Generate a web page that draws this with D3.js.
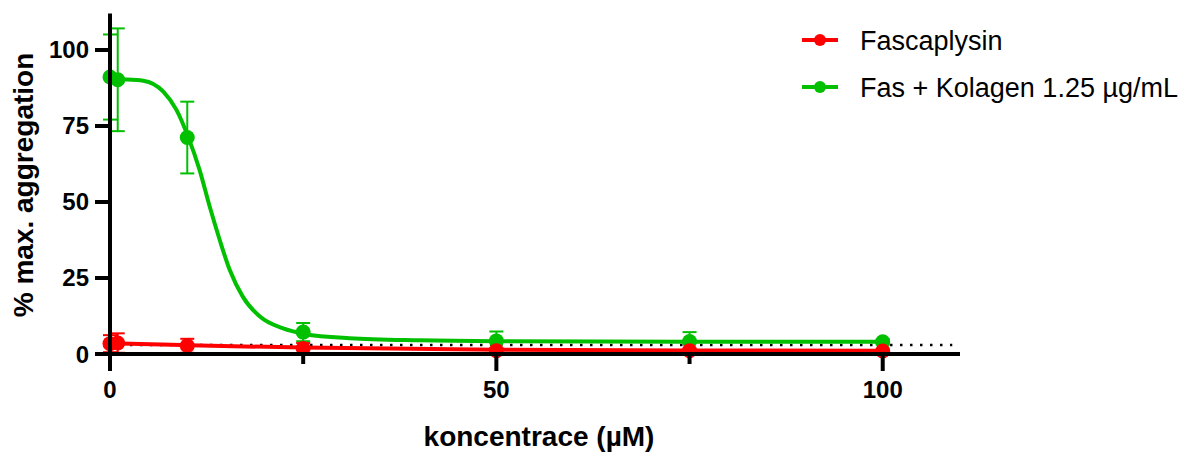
<!DOCTYPE html>
<html>
<head>
<meta charset="utf-8">
<script src="https://cdn.jsdelivr.net/npm/d3@7"></script>
<style>
  body { margin: 0; background: #fff; }
  svg { display: block; font-family: Arial, "Liberation Sans", sans-serif; }
</style>
</head>
<body>
<div id="chart"></div>
<script>
// koncentrace (uM)
const concentrations = [0, 1, 10, 25, 50, 75, 100];

// Fascaplysin
const fasMean = [3.4, 3.6, 2.7, 1.8, 1.1, 1.1, 1.0];
const fasSd = [2.8, 3.2, 2.3, 1.8, 0.8, 0.6, 0.5];

// Fas + Kolagen 1.25 ug/mL
const kolMean = [91.1, 90.2, 71.2, 7.2, 4.3, 4.1, 4.0];
const kolSd = [14.0, 16.9, 11.8, 3.0, 3.1, 3.1, 0.8];

// fitted curves
const kolFitX = [0, 2, 4.3, 6.9, 8.6, 10.1, 11.6, 12.9, 14.2, 15.5, 17.2, 19.4, 22.4, 25.2, 31, 40, 50, 75, 100];
const kolFitY = [90.4, 90.3, 89.9, 86.3, 80.3, 71.5, 60.5, 48.5, 37.5, 27.6, 18.8, 12.3, 8.4, 6.6, 5.2, 4.5, 4.2, 4.05, 4.0];
const fasFitX = [0, 10, 25, 50, 75, 100];
const fasFitY = [3.5, 2.9, 2.1, 1.4, 1.15, 1.05];

// dotted reference line
const baseline = 3.0;

const xTicksMajor = [0, 50, 100];
const xTicksMinor = [25, 75];
const yTicks = [0, 25, 50, 75, 100];

const seriesNames = ["Fascaplysin", "Fas + Kolagen 1.25 \u00b5g/mL"];
const colors = ["#ff0000", "#00c000"];

const width = 1191, height = 455;

const svg = d3.select("#chart").append("svg")
  .attr("width", width)
  .attr("height", height);

const x = d3.scaleLinear().domain([0, 110]).range([110, 960]);
const y = d3.scaleLinear().domain([0, 112]).range([354, 13.5]);

// dotted line
svg.append("line")
  .attr("x1", x(0)).attr("x2", x(109))
  .attr("y1", y(baseline)).attr("y2", y(baseline))
  .attr("stroke", "#000")
  .attr("stroke-width", 2.5)
  .attr("stroke-dasharray", "2.5,7.5");

function drawSeries(mean, sd, fitX, fitY, color) {
  const g = svg.append("g");
  const line = d3.line()
    .x(d => x(d[0]))
    .y(d => y(d[1]))
    .curve(d3.curveMonotoneX);

  g.append("path")
    .datum(fitX.map((v, i) => [v, fitY[i]]))
    .attr("d", line)
    .attr("fill", "none")
    .attr("stroke", color)
    .attr("stroke-width", 4);

  const pts = concentrations.map((c, i) => ({ c: c, m: mean[i], s: sd[i] }));

  const eb = g.selectAll(".eb").data(pts).enter().append("g")
    .attr("stroke", color)
    .attr("stroke-width", 2);
  eb.append("line")
    .attr("x1", d => x(d.c)).attr("x2", d => x(d.c))
    .attr("y1", d => y(d.m - d.s)).attr("y2", d => y(d.m + d.s));
  eb.append("line")
    .attr("x1", d => x(d.c) - 7).attr("x2", d => x(d.c) + 7)
    .attr("y1", d => y(d.m + d.s)).attr("y2", d => y(d.m + d.s));
  eb.append("line")
    .attr("x1", d => x(d.c) - 7).attr("x2", d => x(d.c) + 7)
    .attr("y1", d => y(d.m - d.s)).attr("y2", d => y(d.m - d.s));

  g.selectAll("circle").data(pts).enter().append("circle")
    .attr("cx", d => x(d.c))
    .attr("cy", d => y(d.m))
    .attr("r", 7.5)
    .attr("fill", color);
}

drawSeries(kolMean, kolSd, kolFitX, kolFitY, colors[1]);
drawSeries(fasMean, fasSd, fasFitX, fasFitY, colors[0]);

// axes
const axes = svg.append("g").attr("stroke", "#000").attr("stroke-width", 4);
axes.append("line")
  .attr("x1", x(0)).attr("x2", x(0))
  .attr("y1", y(112)).attr("y2", y(0) + 2);
axes.append("line")
  .attr("x1", x(0) - 2).attr("x2", x(110))
  .attr("y1", y(0)).attr("y2", y(0));

axes.selectAll(".yt").data(yTicks).enter().append("line")
  .attr("x1", x(0) - 15).attr("x2", x(0))
  .attr("y1", d => y(d)).attr("y2", d => y(d));
axes.selectAll(".xt").data(xTicksMajor).enter().append("line")
  .attr("x1", d => x(d)).attr("x2", d => x(d))
  .attr("y1", y(0)).attr("y2", y(0) + 17);
axes.selectAll(".xm").data(xTicksMinor).enter().append("line")
  .attr("x1", d => x(d)).attr("x2", d => x(d))
  .attr("y1", y(0)).attr("y2", y(0) + 10);

svg.selectAll(".ylab").data(yTicks).enter().append("text")
  .attr("x", 89)
  .attr("y", d => y(d) + 8.5)
  .attr("text-anchor", "end")
  .attr("font-size", 24)
  .attr("font-weight", "bold")
  .text(d => d);

svg.selectAll(".xlab").data(xTicksMajor).enter().append("text")
  .attr("x", d => x(d))
  .attr("y", 398)
  .attr("text-anchor", "middle")
  .attr("font-size", 24)
  .attr("font-weight", "bold")
  .text(d => d);

svg.append("text")
  .attr("x", 539)
  .attr("y", 446)
  .attr("text-anchor", "middle")
  .attr("font-size", 28)
  .attr("font-weight", "bold")
  .text("koncentrace (\u00b5M)");

svg.append("text")
  .attr("transform", "translate(33,185) rotate(-90)")
  .attr("text-anchor", "middle")
  .attr("font-size", 28)
  .attr("font-weight", "bold")
  .text("% max. aggregation");

// legend
const legend = svg.selectAll(".leg").data(seriesNames).enter().append("g")
  .attr("transform", (d, i) => "translate(0," + (40 + i * 47) + ")");
legend.append("line")
  .attr("x1", 802).attr("x2", 838)
  .attr("stroke", (d, i) => colors[i])
  .attr("stroke-width", 4);
legend.append("circle")
  .attr("cx", 820).attr("r", 6)
  .attr("fill", (d, i) => colors[i]);
legend.append("text")
  .attr("x", 860)
  .attr("y", 10)
  .attr("font-size", 27)
  .text(d => d);
</script>
</body>
</html>
